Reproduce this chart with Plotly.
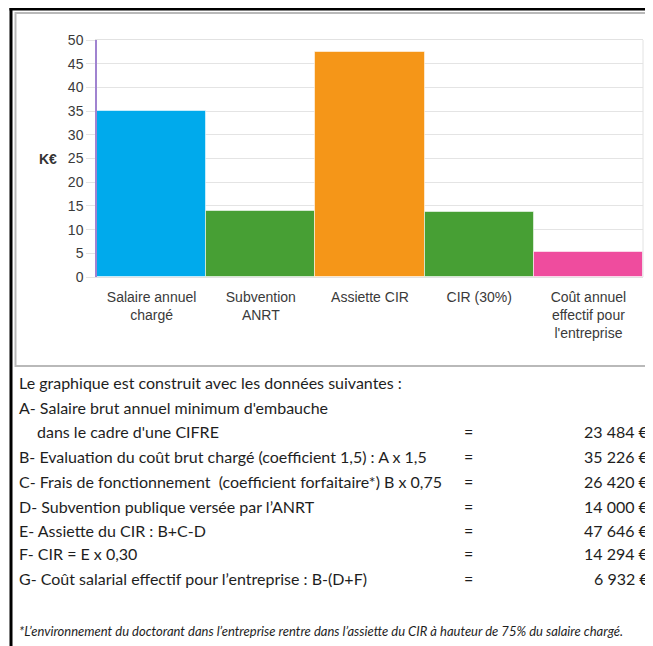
import plotly.graph_objects as go

# ---- data ----
categories = ["Salaire annuel<br>chargé", "Subvention<br>ANRT", "Assiette CIR",
              "CIR (30%)", "Coût annuel<br>effectif pour<br>l'entreprise"]
values_keur = [35.0, 14.0, 47.4, 13.8, 5.3]
bar_colors = ["#00AAEC", "#479F34", "#F59618", "#479F34", "#EF4C9E"]
y_ticks = [0, 5, 10, 15, 20, 25, 30, 35, 40, 45, 50]

intro_line = "Le graphique est construit avec les données suivantes :"
row_labels = [
    "A- Salaire brut annuel minimum d'embauche",
    "    dans le cadre d'une CIFRE",
    "B- Evaluation du coût brut chargé (coefficient 1,5) : A x 1,5",
    "C- Frais de fonctionnement  (coefficient forfaitaire*) B x 0,75",
    "D- Subvention publique versée par l’ANRT",
    "E- Assiette du CIR : B+C-D",
    "F- CIR = E x 0,30",
    "G- Coût salarial effectif pour l’entreprise : B-(D+F)",
]
row_values = ["", "23 484 €", "35 226 €", "26 420 €", "14 000 €", "47 646 €", "14 294 €", "6 932 €"]
footnote = "*L’environnement du doctorant dans l’entreprise rentre dans l’assiette du CIR à hauteur de 75% du salaire chargé."

# ---- layout geometry (reference pixels; page body adds an 8px offset) ----
OFF = 8
W, H = 653 - OFF, 646 - OFF
L, R, T, B = 97, 643, 40, 277


def px(x):
    return (x - L) / (R - L)


def py(y):
    return (B - y) / (B - T)


fig = go.Figure(go.Bar(
    x=categories, y=values_keur,
    marker=dict(color=bar_colors, line=dict(color="rgba(255,255,255,0.55)", width=1)),
    hoverinfo="skip",
))

chart_font = "Liberation Sans, Arial, Helvetica, sans-serif"
text_font = "Lato, Liberation Sans, sans-serif"

fig.update_layout(
    width=W, height=H,
    margin=dict(l=L - OFF, r=W - (R - OFF), t=T - OFF, b=H - (B - OFF)),
    paper_bgcolor="white", plot_bgcolor="white",
    bargap=0, showlegend=False,
    font=dict(family=chart_font, size=14, color="#3a3a3a"),
)
fig.update_xaxes(
    type="category", showgrid=False, showline=True, linecolor="#e2e2e2", linewidth=1,
    mirror=True, ticks="outside", ticklen=7, tickcolor="rgba(0,0,0,0)",
    tickfont=dict(size=14, color="#3a3a3a"),
)
fig.update_yaxes(
    range=[0, 50], tickvals=y_ticks, showgrid=True, gridcolor="#e4e4e4", gridwidth=1,
    zeroline=False, showline=True, linecolor="#a083d0", linewidth=1.5,
    ticks="outside", ticklen=9, tickcolor="#e4e4e4",
    tickfont=dict(size=14, color="#3a3a3a"),
)

shapes = []
# right frame of plot
shapes.append(dict(type="line", xref="paper", yref="paper", x0=1, x1=1, y0=0, y1=1,
                   line=dict(color="#e2e2e2", width=1)))
# gray chart box
shapes.append(dict(type="rect", xref="paper", yref="paper",
                   x0=px(15.5), x1=px(651.5), y0=py(13), y1=py(366),
                   line=dict(color="#b9b9b9", width=2), layer="below"))
# black outer border (left and top)
shapes.append(dict(type="line", xref="paper", yref="paper", x0=px(11), x1=px(11),
                   y0=py(8), y1=py(660), line=dict(color="black", width=3)))
shapes.append(dict(type="line", xref="paper", yref="paper", x0=px(9.5), x1=px(670),
                   y0=py(9), y1=py(9), line=dict(color="black", width=3)))

annotations = []
annotations.append(dict(text="<b>K€</b>", xref="paper", yref="paper", x=px(48), y=py(159),
                        xanchor="center", yanchor="middle", showarrow=False,
                        font=dict(family=chart_font, size=14, color="#333")))

TXT = dict(family=text_font, size=16, color="#1e1e1e")
annotations.append(dict(text=intro_line, xref="paper", yref="paper", x=px(17), y=py(383),
                        xanchor="left", yanchor="middle", showarrow=False, font=TXT))
row_y = [407, 431, 456, 481, 506, 530, 554, 578]
for lab, val, yy in zip(row_labels, row_values, row_y):
    xl = 17
    txt = lab
    if lab.startswith("    "):
        xl = 35
        txt = lab.strip()
    annotations.append(dict(text=txt, xref="paper", yref="paper", x=px(xl), y=py(yy),
                            xanchor="left", yanchor="middle", showarrow=False, font=TXT))
    if val:
        annotations.append(dict(text="=", xref="paper", yref="paper", x=px(468), y=py(yy),
                                xanchor="center", yanchor="middle", showarrow=False, font=TXT))
        annotations.append(dict(text=val, xref="paper", yref="paper", x=px(651), y=py(yy),
                                xanchor="right", yanchor="middle", showarrow=False, font=TXT))

annotations.append(dict(text="<i>" + footnote + "</i>", xref="paper", yref="paper",
                        x=px(17), y=py(631), xanchor="left", yanchor="middle", showarrow=False,
                        font=dict(family=text_font, size=13, color="#1e1e1e")))

fig.update_layout(shapes=shapes, annotations=annotations)
fig.write_html("out.html")
